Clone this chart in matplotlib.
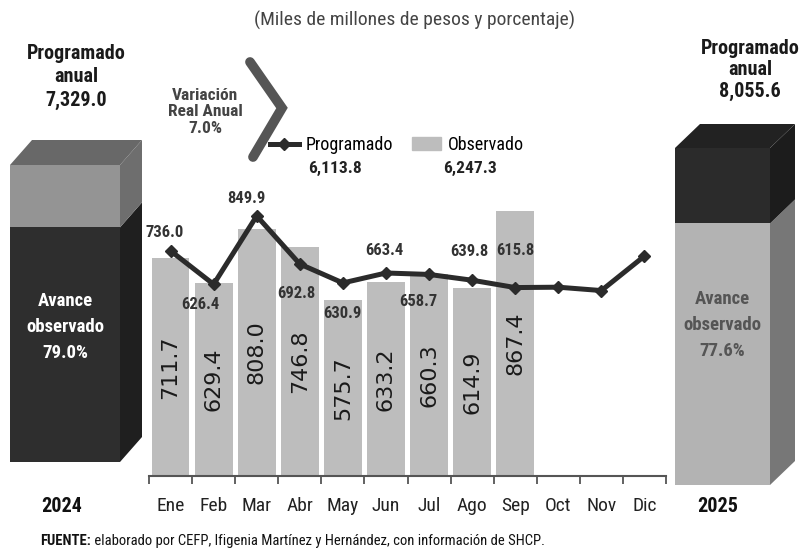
import matplotlib.pyplot as plt
from matplotlib import font_manager
from matplotlib.patches import Polygon
from matplotlib.lines import Line2D

# datos
meses = ["Ene", "Feb", "Mar", "Abr", "May", "Jun", "Jul", "Ago", "Sep", "Oct", "Nov", "Dic"]
observado = [711.7, 629.4, 808.0, 746.8, 575.7, 633.2, 660.3, 614.9, 867.4]
programado = [736.0, 626.4, 849.9, 692.8, 630.9, 663.4, 658.7, 639.8, 615.8, 617.0, 606.0, 718.8]
n_etiquetas = 9  # solo se rotulan ene-sep

anual_2024 = 7329.0
avance_2024 = 79.0
anual_2025 = 8055.6
avance_2025 = 77.6
total_prog = 6113.8
total_obs = 6247.3
variacion = 7.0

# fuente angosta si existe
fl = font_manager.fontManager.ttflist
nombres = {f.name for f in fl}
if "Roboto Condensed" in nombres:
    ang, est = "Roboto Condensed", "normal"
elif any(f.name == "DejaVu Sans" and f.stretch == "condensed" for f in fl):
    ang, est = "DejaVu Sans", "condensed"
elif "Liberation Sans Narrow" in nombres:
    ang, est = "Liberation Sans Narrow", "normal"
else:
    ang, est = "Roboto", "normal"
fn = {"family": ang, "stretch": est}

W, H = 809, 554
fig = plt.figure(figsize=(W / 100, H / 100), dpi=100)


def px(x, y):
    return x / W, 1 - y / H


def caja_ax(x0, x1, y_bot, y_top):
    a = fig.add_axes([x0 / W, 1 - y_bot / H, (x1 - x0) / W, (y_bot - y_top) / H])
    a.axis("off")
    return a


# ---- grafica principal ----
ax = fig.add_axes([149 / W, 1 - 476 / H, 517 / W, 306 / H])
x = list(range(len(meses)))
ax.bar(x[:len(observado)], observado, width=0.88, color="#bdbdbd", zorder=1)
for i, v in enumerate(observado):
    ax.text(i, v / 2, f"{v:.1f}", rotation=90, ha="center", va="center",
            fontsize=16, color="#1a1a1a", zorder=2)

ax.plot(x, programado, color="#2b2b2b", lw=3.6, marker="D", ms=6, zorder=3)
offs = [(-6, -18), (-13, 20), (-10, -17), (-3, 29), (0, 31), (-2, -22), (-11, 27), (-3, -29), (0, -37)]
for i in range(n_etiquetas):
    dx, dy = offs[i]
    ax.annotate(f"{programado[i]:.1f}", (i, programado[i]), xytext=(dx * 0.72, -dy * 0.72),
                textcoords="offset points", ha="center", va="center", fontsize=12,
                fontweight="bold", color="#333333", zorder=4, **fn)

ax.set_xlim(-0.5, 11.5)
ax.set_ylim(0, 1000)
for s in ["left", "right", "top"]:
    ax.spines[s].set_visible(False)
ax.spines["bottom"].set_color("#555555")
ax.spines["bottom"].set_linewidth(1.5)
ax.set_yticks([])
ax.set_xticks(x)
ax.set_xticklabels(meses, fontsize=14, color="#222222", **fn)
ax.tick_params(axis="x", which="major", length=0, pad=15)
ax.set_xticks([i - 0.5 for i in range(13)], minor=True)
ax.tick_params(axis="x", which="minor", length=6, width=1.3, color="#555555")

# leyenda
h_prog = Line2D([], [], color="#2b2b2b", lw=3.6, marker="D", ms=6)
h_obs = plt.Rectangle((0, 0), 1, 1, color="#bdbdbd")
fig.legend([h_prog, h_obs], ["Programado", "Observado"], ncol=2, frameon=False,
           loc="center left", bbox_to_anchor=px(270, 145), borderpad=0, borderaxespad=0,
           handlelength=1.6, handletextpad=0.4, columnspacing=1.0,
           prop={"family": ang, "stretch": est, "size": 13})
fig.text(*px(335, 168), f"{total_prog:,.1f}", ha="center", va="center", fontsize=12.5,
         fontweight="bold", color="#222222", **fn)
fig.text(*px(470, 168), f"{total_obs:,.1f}", ha="center", va="center", fontsize=12.5,
         fontweight="bold", color="#222222", **fn)

# variacion real anual
fig.text(*px(205, 112), f"Variación\nReal Anual\n{variacion:.1f}%", ha="center", va="center",
         fontsize=12.5, fontweight="bold", color="#444444", linespacing=1.1, **fn)
fig.add_artist(Line2D([250 / W, 282 / W, 253 / W], [1 - 62 / H, 1 - 108 / H, 1 - 157 / H],
                      color="#555555", lw=7, solid_capstyle="round", solid_joinstyle="miter"))

# titulo
fig.text(*px(415, 20), "(Miles de millones de pesos y porcentaje)", ha="center", va="center",
         fontsize=14, color="#444444", **fn)


# ---- cajas 3D ----
def caja(a, total, pct, x_front, depth_x, depth_y, c_low, c_up, c_low_side, c_up_side, c_top):
    obs = total * pct / 100
    a.bar(x_front / 2, obs, width=x_front, color=c_low, lw=0)
    a.bar(x_front / 2, total - obs, bottom=obs, width=x_front, color=c_up, lw=0)
    x1 = x_front
    a.add_patch(Polygon([(x1, 0), (x1 + depth_x, depth_y), (x1 + depth_x, obs + depth_y), (x1, obs)],
                        color=c_low_side, lw=0))
    a.add_patch(Polygon([(x1, obs), (x1 + depth_x, obs + depth_y), (x1 + depth_x, total + depth_y),
                         (x1, total)], color=c_up_side, lw=0))
    a.add_patch(Polygon([(0, total), (depth_x, total + depth_y), (x1 + depth_x, total + depth_y),
                         (x1, total)], color=c_top, lw=0))


# 2024: frente 10-120 px, base 462, cima 165
a1 = caja_ax(10, 150, 462, 110)
k1 = anual_2024 / (462 - 165)
a1.set_xlim(0, 140)
a1.set_ylim(0, 352 * k1)
caja(a1, anual_2024, avance_2024, 110, 22, 25 * k1, "#2e2e2e", "#949494", "#1f1f1f", "#6e6e6e", "#686868")

# 2025: frente 675-770 px, base 485, cima 148
a2 = caja_ax(675, 805, 485, 100)
k2 = anual_2025 / (485 - 148)
a2.set_xlim(0, 130)
a2.set_ylim(0, 385 * k2)
caja(a2, anual_2025, avance_2025, 95, 25, 24 * k2, "#b3b3b3", "#2b2b2b", "#777777", "#1c1c1c", "#222222")

fig.text(*px(76, 77), f"Programado\nanual\n{anual_2024:,.1f}", ha="center", va="center", fontsize=14.5,
         fontweight="bold", color="#1a1a1a", linespacing=1.3, **fn)
fig.text(*px(750, 70), f"Programado\nanual\n{anual_2025:,.1f}", ha="center", va="center", fontsize=14.5,
         fontweight="bold", color="#1a1a1a", linespacing=1.15, **fn)
fig.text(*px(65, 327), f"Avance\nobservado\n{avance_2024:.1f}%", ha="center", va="center", fontsize=13.5,
         fontweight="bold", color="white", linespacing=1.6, **fn)
fig.text(*px(722, 325), f"Avance\nobservado\n{avance_2025:.1f}%", ha="center", va="center", fontsize=13.5,
         fontweight="bold", color="#555555", linespacing=1.6, **fn)

fig.text(*px(62, 506), "2024", ha="center", va="center", fontsize=14.5, fontweight="bold",
         color="#111111", **fn)
fig.text(*px(718, 506), "2025", ha="center", va="center", fontsize=14.5, fontweight="bold",
         color="#111111", **fn)

# fuente
t1 = fig.text(*px(40, 541), "FUENTE:", ha="left", va="center", fontsize=10.5, fontweight="bold",
              color="#111111", **fn)
ax.annotate(" elaborado por CEFP, Ifigenia Martínez y Hernández, con información de SHCP.",
            xy=(1, 0.5), xycoords=t1, ha="left", va="center", fontsize=10.5,
            color="#111111", annotation_clip=False, **fn)

fig.savefig("out.png", dpi=100)
